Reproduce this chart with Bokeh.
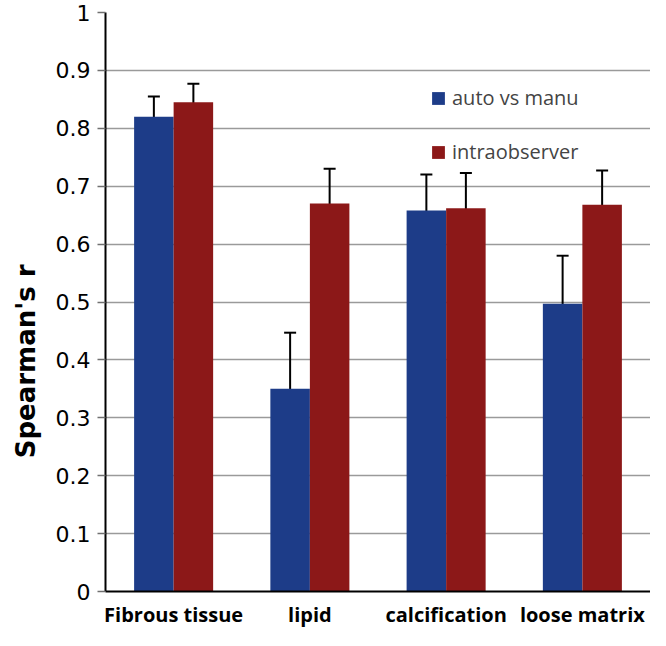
from bokeh.plotting import figure
from bokeh.models import (ColumnDataSource, FactorRange, FixedTicker, Whisker,
                          TeeHead, Legend, LegendItem, Title)
from bokeh.transform import dodge
from bokeh.embed import file_html
from bokeh.resources import INLINE

categories = ["Fibrous tissue", "lipid", "calcification", "loose matrix"]
series_names = ["auto vs manu", "intraobserver"]
auto_vals = [0.82, 0.35, 0.658, 0.497]
auto_lower = [0.78, 0.243, 0.587, 0.405]
auto_upper = [0.855, 0.447, 0.72, 0.58]
intra_vals = [0.845, 0.67, 0.662, 0.668]
intra_lower = [0.807, 0.61, 0.59, 0.598]
intra_upper = [0.877, 0.73, 0.723, 0.727]
y_ticks = [0, 0.1, 0.2, 0.3, 0.4, 0.5, 0.6, 0.7, 0.8, 0.9, 1.0]
y_tick_labels = ["0", "0.1", "0.2", "0.3", "0.4", "0.5", "0.6", "0.7", "0.8", "0.9", "1"]
y_label = "Spearman's r"

BLUE = "#1D3C88"
RED = "#8C1818"
FONT = "Open Sans"

src = ColumnDataSource(dict(cat=categories, auto=auto_vals, alo=auto_lower, aup=auto_upper,
                            intra=intra_vals, ilo=intra_lower, iup=intra_upper))

p = figure(width=650, height=630, x_range=FactorRange(*categories, range_padding=0),
           y_range=(0, 1), output_backend="svg", toolbar_location=None,
           min_border_left=104, min_border_right=0, min_border_top=12, min_border_bottom=0)
p.outline_line_color = None
p.background_fill_color = "white"

bw = 0.29
r1 = p.vbar(x=dodge("cat", -bw / 2, range=p.x_range), top="auto", width=bw, source=src,
            fill_color=BLUE, line_color=None)
r2 = p.vbar(x=dodge("cat", bw / 2, range=p.x_range), top="intra", width=bw, source=src,
            fill_color=RED, line_color=None)

for off, lo, up in ((-bw / 2, "alo", "aup"), (bw / 2, "ilo", "iup")):
    w = Whisker(base=dodge("cat", off, range=p.x_range), lower=lo, upper=up, source=src,
                line_color="black", line_width=2,
                upper_head=TeeHead(size=12, line_color="black", line_width=2),
                lower_head=TeeHead(size=12, line_color="black", line_width=2))
    p.add_layout(w)

# axes
p.xgrid.grid_line_color = None
p.ygrid.grid_line_color = "#9A9A9A"
p.ygrid.grid_line_width = 1.5
p.yaxis.ticker = FixedTicker(ticks=y_ticks)
p.yaxis.major_label_overrides = {t: l for t, l in zip(y_ticks, y_tick_labels)}
p.yaxis.axis_line_color = "black"
p.yaxis.axis_line_width = 2
p.yaxis.major_tick_out = 8
p.yaxis.major_tick_in = 0
p.yaxis.major_tick_line_color = "#707070"
p.yaxis.major_tick_line_width = 1.5
p.yaxis.minor_tick_line_color = None
p.yaxis.major_label_text_font = "DejaVu Sans"
p.yaxis.major_label_text_font_size = "22px"
p.yaxis.major_label_text_color = "black"
p.yaxis.major_label_standoff = 7

p.xaxis.axis_line_color = "black"
p.xaxis.axis_line_width = 2
p.xaxis.major_tick_line_color = None
p.xaxis.minor_tick_line_color = None
p.xaxis.major_label_text_font = FONT
p.xaxis.major_label_text_font_style = "bold"
p.xaxis.major_label_text_font_size = "20px"
p.xaxis.major_label_text_color = "black"
p.xaxis.major_label_standoff = 3

p.add_layout(Title(text=y_label, align="right", offset=252, standoff=20, vertical_align="top",
                   text_font="DejaVu Sans", text_font_style="bold", text_font_size="26px",
                   text_color="black"), "left")

legend = Legend(items=[LegendItem(label=series_names[0], renderers=[r1]),
                       LegendItem(label=series_names[1], renderers=[r2])],
                location=(325, 426), orientation="vertical",
                glyph_width=16, glyph_height=16, label_height=20, spacing=27,
                padding=0, margin=0, border_line_alpha=0, background_fill_alpha=0,
                label_text_font=FONT, label_text_font_size="20px", label_standoff=6)
p.add_layout(legend)

open("out.html", "w").write(file_html(p, INLINE))
